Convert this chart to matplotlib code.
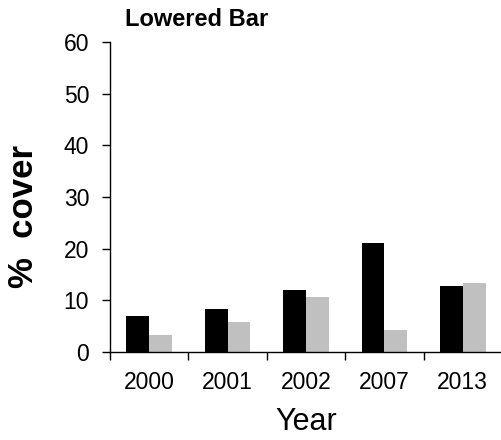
import numpy as np
import matplotlib.pyplot as plt

plt.rcParams['font.family'] = ['Liberation Sans', 'DejaVu Sans']

years = ['2000', '2001', '2002', '2007', '2013']
black_vals = [6.9, 8.3, 12.0, 21.0, 12.8]
gray_vals = [3.35, 5.9, 10.6, 4.3, 13.3]

fig = plt.figure(figsize=(5.02, 4.40), dpi=100)
ax = fig.add_axes([110/502, 1 - 352/440, 392/502, 310/440])

x = np.arange(len(years))
w = 0.29
ax.bar(x - w/2, black_vals, w, color='black')
ax.bar(x + w/2, gray_vals, w, color='#c0c0c0')

ax.set_xlim(-0.5, len(years) - 0.5)
ax.set_ylim(0, 60)
ax.set_yticks(range(0, 61, 10))
ax.set_xticks(x)
ax.set_xticklabels(years)
ax.set_xticks(np.arange(-0.5, len(years) - 0.4, 1), minor=True)
ax.tick_params(axis='x', which='major', length=0, labelsize=16.5, pad=14)
ax.tick_params(axis='x', which='minor', length=6, width=1, direction='out')
ax.tick_params(axis='y', length=6, width=1, labelsize=16.5, pad=9)

for s in ['top', 'right']:
    ax.spines[s].set_visible(False)
for s in ['left', 'bottom']:
    ax.spines[s].set_linewidth(1)

fig.text(306/502, 1 - 430/440, 'Year', fontsize=22, ha='center', va='baseline')
fig.text(24/502, 1 - 217/440, '%  cover', fontsize=25, fontweight='bold',
         rotation=90, ha='center', va='center')
fig.text(125/502, 1 - 26/440, 'Lowered Bar', fontsize=17, fontweight='bold',
         va='baseline', ha='left')

fig.savefig('out.png', dpi=100)
